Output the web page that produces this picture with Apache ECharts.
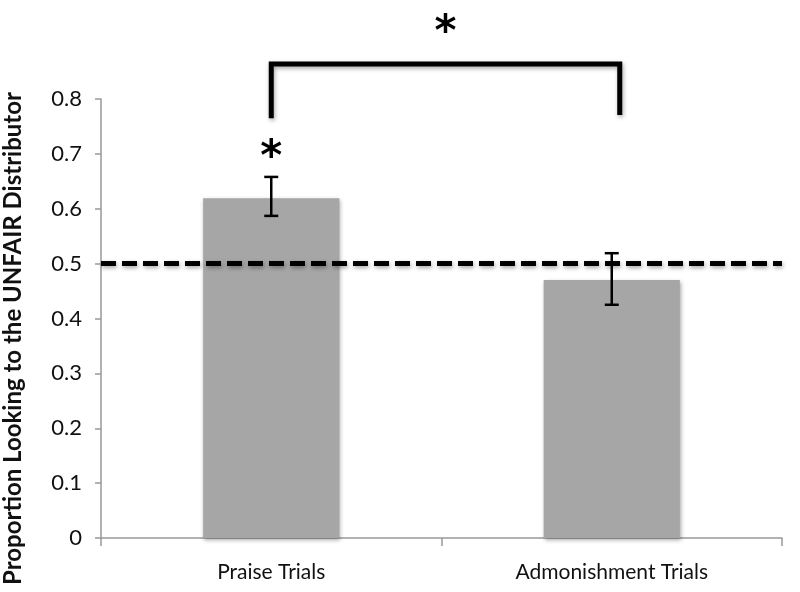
<!DOCTYPE html>
<html>
<head>
<meta charset="utf-8">
<script src="https://cdn.jsdelivr.net/npm/echarts@6/dist/echarts.min.js"></script>
<style>
html, body { margin: 0; padding: 0; background: #fff; }
#chart { width: 800px; height: 592px; }
</style>
</head>
<body>
<div id="chart"></div>
<script>
// values
const categories = ['Praise Trials', 'Admonishment Trials'];
const proportions = [0.619, 0.470];
const errLow = [0.587, 0.425];
const errHigh = [0.658, 0.519];
const chanceLevel = 0.5;
// bracket: left foot, top, right foot (in axis units)
const bracket = [0.765, 0.864, 0.771];
// significance stars: [from category, to category, value] -> drawn at the middle
const stars = [[0, 0, 0.69], [0, 1, 0.918]];

const myChart = echarts.init(document.getElementById('chart'));

const shadow = {
    shadowBlur: 4,
    shadowColor: 'rgba(0,0,0,0.35)',
    shadowOffsetX: 1,
    shadowOffsetY: 2
};

const option = {
    animation: false,
    grid: { left: 101, right: 18, top: 99, bottom: 54, containLabel: false, outerBoundsMode: 'none' },
    xAxis: {
        type: 'category',
        data: categories,
        axisLine: { lineStyle: { color: '#999', width: 1.5 } },
        axisTick: { show: true, length: 8, lineStyle: { color: '#999', width: 1.5 } },
        axisLabel: { color: '#111', fontSize: 21, fontFamily: 'Lato', margin: 24 }
    },
    yAxis: {
        type: 'value',
        min: 0,
        max: 0.8,
        interval: 0.1,
        name: 'Proportion Looking to the UNFAIR Distributor',
        nameLocation: 'middle',
        nameGap: 76,
        nameTextStyle: {
            color: '#111', fontSize: 24, fontWeight: 'bold', fontFamily: 'Lato',
            padding: [0, 40, 0, 0]
        },
        splitLine: { show: false },
        axisLine: { show: true, lineStyle: { color: '#999', width: 1.5 } },
        axisTick: { show: true, length: 6, lineStyle: { color: '#999', width: 1.5 } },
        axisLabel: {
            color: '#111',
            fontSize: 22,
            fontFamily: 'Lato',
            margin: 19,
            formatter: v => v === 0 ? '0' : v.toFixed(1)
        }
    },
    series: [
        {
            type: 'bar',
            data: proportions,
            barWidth: '40%',
            itemStyle: Object.assign({ color: '#a6a6a6' }, shadow),
            markLine: {
                symbol: 'none',
                silent: true,
                label: { show: false },
                lineStyle: Object.assign({ color: '#000', width: 5, type: [15, 6] }, shadow),
                data: [{ yAxis: chanceLevel }]
            },
            z: 2
        },
        {
            // error bars
            type: 'custom',
            data: categories.map((c, i) => [i, errLow[i], errHigh[i]]),
            renderItem: (params, api) => {
                const lo = api.coord([api.value(0), api.value(1)]);
                const hi = api.coord([api.value(0), api.value(2)]);
                const w = 7;
                const style = { stroke: '#000', lineWidth: 2.5 };
                return {
                    type: 'group',
                    children: [
                        { type: 'line', shape: { x1: lo[0], y1: lo[1], x2: hi[0], y2: hi[1] }, style },
                        { type: 'line', shape: { x1: lo[0] - w, y1: lo[1], x2: lo[0] + w, y2: lo[1] }, style },
                        { type: 'line', shape: { x1: hi[0] - w, y1: hi[1], x2: hi[0] + w, y2: hi[1] }, style }
                    ]
                };
            },
            z: 5
        },
        {
            // comparison bracket
            type: 'custom',
            clip: false,
            data: [bracket],
            renderItem: (params, api) => {
                const a = api.coord([0, api.value(0)]);
                const b = api.coord([0, api.value(1)]);
                const c = api.coord([1, api.value(1)]);
                const d = api.coord([1, api.value(2)]);
                const off = 8;
                return {
                    type: 'polyline',
                    shape: { points: [a, b, [c[0] + off, c[1]], [d[0] + off, d[1]]] },
                    style: Object.assign({ stroke: '#000', lineWidth: 5, fill: null, lineJoin: 'miter' }, shadow)
                };
            },
            z: 5
        },
        {
            // significance stars
            type: 'custom',
            clip: false,
            data: stars,
            renderItem: (params, api) => {
                const p0 = api.coord([api.value(0), api.value(2)]);
                const p1 = api.coord([api.value(1), api.value(2)]);
                const off = api.value(0) === api.value(1) ? 0 : 4;
                return {
                    type: 'text',
                    x: (p0[0] + p1[0]) / 2 + off,
                    y: p0[1],
                    style: {
                        text: '*',
                        fill: '#000',
                        font: 'bold 42px "DejaVu Sans"',
                        align: 'center',
                        verticalAlign: 'middle'
                    }
                };
            },
            z: 6
        }
    ]
};

myChart.setOption(option);
</script>
</body>
</html>
